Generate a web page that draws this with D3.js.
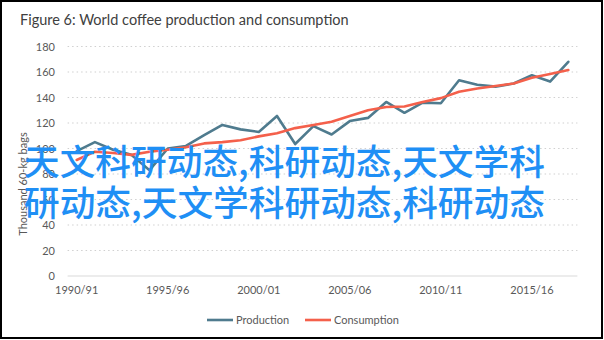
<!DOCTYPE html>
<html>
<head>
<meta charset="utf-8">
<script src="https://cdn.jsdelivr.net/npm/d3@7"></script>
<style>
  html, body { margin: 0; padding: 0; background: #fff; }
  svg { display: block; }
</style>
</head>
<body>
<svg id="chart" width="604" height="340"></svg>
<script>
const title = "Figure 6: World coffee production  and consumption";
const yAxisTitle = "Thousand 60-kg bags";
const categories = ["1990/91","1991/92","1992/93","1993/94","1994/95","1995/96","1996/97","1997/98","1998/99","1999/00",
  "2000/01","2001/02","2002/03","2003/04","2004/05","2005/06","2006/07","2007/08","2008/09","2009/10",
  "2010/11","2011/12","2012/13","2013/14","2014/15","2015/16","2016/17","2017/18"];
const production = [98, 105, 99, 95, 83, 100, 102, 110.5, 118.5, 115, 113, 125.5, 103.5, 117.5, 111, 121.5, 124, 136.5, 128, 136,
  135.5, 153.5, 150, 148.5, 151, 157.5, 152.5, 168];
const consumption = [91, 97.5, 96.5, 95, 97.5, 99, 101, 104, 105, 106.5, 109.5, 112, 116, 118.5, 121, 125.5, 130, 132.5, 133, 136.5,
  139.5, 144.5, 147, 149, 151, 155.5, 158.5, 161.5];
const yTicks = [0, 20, 40, 60, 80, 100, 120, 140, 160, 180];
const xTickLabels = ["1990/91","1995/96","2000/01","2005/06","2010/11","2015/16"];
const seriesNames = ["Production", "Consumption"];
const seriesColors = ["#4f7b8e", "#f4604b"];
const overlayLines = ["天文科研动态,科研动态,天文学科", "研动态,天文学科研动态,科研动态"];

const svg = d3.select("#chart");
const font = "Lato, 'Open Sans', sans-serif";
const textColor = "#595959";

// frame
svg.append("rect").attr("x", 1).attr("y", 1).attr("width", 601).attr("height", 337)
  .attr("fill", "#fff").attr("stroke", "#000").attr("stroke-width", 2);

// title
svg.append("text").attr("x", 20).attr("y", 25).text(title)
  .attr("font-family", font).attr("font-size", 14.5).attr("fill", "#404040");

const x = d3.scaleBand().domain(categories).range([67.6, 577.4]).padding(0);
const cx = c => x(c) + x.bandwidth() / 2;
const y = d3.scaleLinear().domain([0, 180]).range([276, 46.5]);

// gridlines
svg.append("g").selectAll("line").data(yTicks.filter(v => v > 0)).join("line")
  .attr("x1", 67.6).attr("x2", 577.4)
  .attr("y1", d => y(d)).attr("y2", d => y(d))
  .attr("stroke", "#d0d0d0").attr("stroke-width", 1.2).attr("stroke-dasharray", "1.5,3");

// zero line
svg.append("line").attr("x1", 67.6).attr("x2", 577.4).attr("y1", y(0)).attr("y2", y(0))
  .attr("stroke", "#d9d9d9").attr("stroke-width", 1);

// y axis
const yAxis = svg.append("g").attr("transform", "translate(55,0)")
  .call(d3.axisLeft(y).tickValues(yTicks).tickSize(0).tickPadding(0));
yAxis.select(".domain").remove();
yAxis.selectAll("text").attr("font-family", font).attr("font-size", 11).attr("fill", textColor);

// x axis
const xAxis = svg.append("g").attr("transform", `translate(0,${y(0) + 6})`)
  .call(d3.axisBottom(x).tickValues(xTickLabels).tickSize(0).tickPadding(4));
xAxis.select(".domain").remove();
xAxis.selectAll("text").attr("font-family", font).attr("font-size", 11).attr("fill", textColor);

// y axis title
svg.append("text").attr("transform", "translate(27,184) rotate(-90)")
  .attr("text-anchor", "middle").text(yAxisTitle)
  .attr("font-family", font).attr("font-size", 11).attr("fill", textColor);

// lines
const line = d3.line().x((d, i) => cx(categories[i])).y(d => y(d));
[production, consumption].forEach((s, k) => {
  svg.append("path").datum(s).attr("d", line)
    .attr("fill", "none").attr("stroke", seriesColors[k]).attr("stroke-width", 2.6)
    .attr("stroke-linejoin", "round").attr("stroke-linecap", "round");
});

// legend
const legendItems = [{x: 207, tx: 236}, {x: 305, tx: 334}];
seriesNames.forEach((n, k) => {
  svg.append("line").attr("x1", legendItems[k].x).attr("x2", legendItems[k].x + 26)
    .attr("y1", 320).attr("y2", 320).attr("stroke", seriesColors[k]).attr("stroke-width", 2.6);
  svg.append("text").attr("x", legendItems[k].tx).attr("y", 324).text(n)
    .attr("font-family", font).attr("font-size", 11).attr("fill", textColor);
});

// overlay text
overlayLines.forEach((t, i) => {
  svg.append("text").attr("x", 24).attr("y", 159 + i * 41.5).attr("dominant-baseline", "central")
    .text(t).attr("font-family", "'Noto Sans CJK SC', sans-serif").attr("font-weight", 500)
    .attr("font-size", 35.7).attr("fill", "#1f8ff5");
});
</script>
</body>
</html>
